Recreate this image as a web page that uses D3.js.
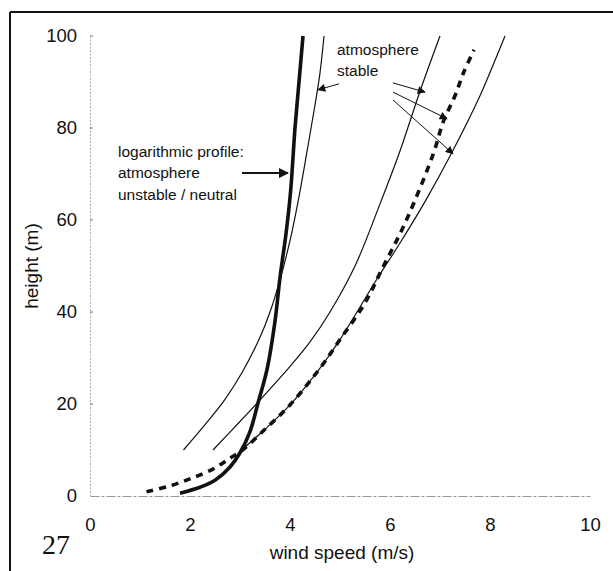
<!DOCTYPE html>
<html>
<head>
<meta charset="utf-8">
<script src="https://cdnjs.cloudflare.com/ajax/libs/d3/7.8.5/d3.min.js"></script>
<style>
	html, body { margin:0; padding:0; background:#fff; }
	svg { display:block; }
	text { font-family: 'Liberation Sans', Arial, sans-serif; fill:#111; }
</style>
</head>
<body>
<svg id="chart" width="613" height="571"></svg>
<script>

// wind speed (m/s) vs height (m)
var logProfile = [
	[1.8,0.6],[2.2,1.9],[2.5,3.4],[2.8,6.3],[3.0,9.4],[3.2,14],[3.36,20.2],
	[3.54,27.5],[3.7,38],[3.8,47.5],[3.92,57],[4.01,66],[4.1,80],[4.18,90],[4.26,100]
];
var stableA = [
	[1.87,10],[2.3,15.5],[2.7,21],[3.05,27],[3.4,34.5],[3.6,40],[3.8,47],
	[4.0,55.5],[4.17,64.5],[4.35,75.5],[4.5,85],[4.6,92],[4.68,100]
];
var stableB = [
	[2.46,10],[3.0,16.2],[3.36,20.4],[3.94,27.4],[4.4,33.5],[4.8,40],
	[5.3,50],[5.8,63.5],[6.2,75],[6.6,88],[7.0,100]
];
var stableC = [
	[3.03,10],[3.5,14.5],[4.0,19.8],[4.56,27.2],[5.0,34],[5.73,47],
	[6.2,55],[6.7,64],[7.23,74.5],[7.8,87],[8.3,100]
];
var stableDashed = [
	[1.13,0.9],[1.6,2.2],[2.04,3.9],[2.45,5.8],[2.77,8],[3.05,10],[3.5,14.5],
	[4.0,19.8],[4.56,27.2],[5.0,34],[5.5,42],[5.87,50],[6.2,57],[6.5,64.3],
	[6.87,74.5],[7.07,81.5],[7.3,87],[7.47,92],[7.68,97]
];

var xTicks = [0, 2, 4, 6, 8, 10];
var yTicks = [0, 20, 40, 60, 80, 100];

// annotation anchors in data units
var logLabel = ['logarithmic profile:', 'atmosphere', 'unstable / neutral'];
var stableLabel = ['atmosphere', 'stable'];
var logArrow = [[3.04,70.2],[3.96,70.2]];
var stableArrows = [
	[[4.98,89.6],[4.56,88.3]],
	[[6.06,89.8],[6.7,87.8]],
	[[6.06,87.8],[7.14,82.0]],
	[[6.06,86.1],[7.26,74.4]]
];

var svg = d3.select('#chart');

var x = d3.scaleLinear().domain([0, 10]).range([90, 590]);
var y = d3.scaleLinear().domain([0, 100]).range([496, 36]);

// scanned page frame (left + top edge)
svg.append('line').attr('x1', 10).attr('y1', 12).attr('x2', 10).attr('y2', 571)
	.style('stroke', '#111').style('stroke-width', 2);
svg.append('line').attr('x1', 10).attr('y1', 12).attr('x2', 613).attr('y2', 12)
	.style('stroke', '#111').style('stroke-width', 2);

var defs = svg.append('defs');
defs.append('marker')
	.attr('id', 'headBig')
	.attr('viewBox', '0 0 10 10')
	.attr('refX', 9).attr('refY', 5)
	.attr('markerWidth', 6).attr('markerHeight', 5)
	.attr('markerUnits', 'strokeWidth')
	.attr('orient', 'auto')
	.append('path').attr('d', 'M0,0 L10,5 L0,10 z').style('fill', '#111');
defs.append('marker')
	.attr('id', 'headSmall')
	.attr('viewBox', '0 0 10 10')
	.attr('refX', 9).attr('refY', 5)
	.attr('markerWidth', 10).attr('markerHeight', 8)
	.attr('markerUnits', 'strokeWidth')
	.attr('orient', 'auto')
	.append('path').attr('d', 'M0,0 L10,5 L0,10 z').style('fill', '#111');

// axes - faint in the scan
var xAxis = d3.axisBottom(x).tickValues(xTicks).tickSize(0).tickPadding(22);
var yAxis = d3.axisLeft(y).tickValues(yTicks).tickSize(0).tickPadding(13);

var gx = svg.append('g').attr('transform', 'translate(0,' + y(0) + ')').call(xAxis);
var gy = svg.append('g').attr('transform', 'translate(' + x(0) + ',0)').call(yAxis);

gx.select('.domain').style('stroke', '#999').style('stroke-dasharray', '9,2,3,2');
gy.select('.domain').style('stroke', '#aaa').style('stroke-dasharray', '2,1.5');
gx.selectAll('text').style('font-size', '18.5px').style('font-family', "'Liberation Sans', Arial, sans-serif").style('fill', '#111');
gy.selectAll('text').style('font-size', '18.5px').style('font-family', "'Liberation Sans', Arial, sans-serif").style('fill', '#111');

// tiny tick marks on the y axis
svg.append('g').selectAll('line')
	.data(yTicks.slice(1))
	.enter()
	.append('line')
	.attr('x1', x(0)).attr('x2', x(0) + 3)
	.attr('y1', function(d){ return y(d); })
	.attr('y2', function(d){ return y(d); })
	.style('stroke', '#777').style('stroke-width', 1);

svg.append('text')
	.attr('transform', 'translate(38,266) rotate(-90)')
	.attr('text-anchor', 'middle')
	.style('font-size', '19px')
	.text('height (m)');

svg.append('text')
	.attr('x', 342).attr('y', 559)
	.attr('text-anchor', 'middle')
	.style('font-size', '19px')
	.text('wind speed (m/s)');

svg.append('text')
	.attr('x', 42).attr('y', 554)
	.style('font-family', "'Liberation Serif', 'Times New Roman', serif")
	.style('font-size', '28px')
	.text('27');

var line = d3.line()
	.x(function(d){ return x(d[0]); })
	.y(function(d){ return y(d[1]); })
	.curve(d3.curveCatmullRom.alpha(0.5));

[stableA, stableB, stableC].forEach(function(s){
	svg.append('path')
		.datum(s)
		.attr('d', line)
		.style('fill', 'none')
		.style('stroke', '#111')
		.style('stroke-width', 1.2);
});

svg.append('path')
	.datum(stableDashed)
	.attr('d', line)
	.style('fill', 'none')
	.style('stroke', '#111')
	.style('stroke-width', 3.6)
	.style('stroke-dasharray', '7,6');

svg.append('path')
	.datum(logProfile)
	.attr('d', line)
	.style('fill', 'none')
	.style('stroke', '#111')
	.style('stroke-width', 3.6);

// annotations
svg.append('text')
	.attr('x', x(0.56)).attr('y', y(74.8) + 5)
	.style('font-size', '15.5px')
	.selectAll('tspan')
	.data(logLabel)
	.enter()
	.append('tspan')
	.attr('x', x(0.56))
	.attr('dy', function(d, i){ return i ? 21.5 : 0; })
	.text(function(d){ return d; });

svg.append('line')
	.attr('x1', x(logArrow[0][0])).attr('y1', y(logArrow[0][1]))
	.attr('x2', x(logArrow[1][0])).attr('y2', y(logArrow[1][1]))
	.style('stroke', '#111').style('stroke-width', 2)
	.attr('marker-end', 'url(#headBig)');

svg.append('text')
	.attr('x', x(4.94)).attr('y', y(97) + 5)
	.style('font-size', '15.5px')
	.selectAll('tspan')
	.data(stableLabel)
	.enter()
	.append('tspan')
	.attr('x', x(4.94))
	.attr('dy', function(d, i){ return i ? 21.5 : 0; })
	.text(function(d){ return d; });

svg.append('g').selectAll('line')
	.data(stableArrows)
	.enter()
	.append('line')
	.attr('x1', function(d){ return x(d[0][0]); })
	.attr('y1', function(d){ return y(d[0][1]); })
	.attr('x2', function(d){ return x(d[1][0]); })
	.attr('y2', function(d){ return y(d[1][1]); })
	.style('stroke', '#111').style('stroke-width', 1)
	.attr('marker-end', 'url(#headSmall)');

</script>
</body>
</html>
